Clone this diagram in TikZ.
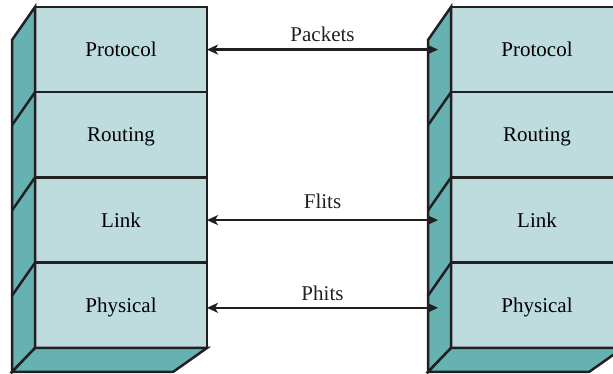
\documentclass[tikz,border=0pt]{standalone}
\usepackage{fontspec}
\setmainfont{Liberation Serif}
\newfontfamily\stackfont{Liberation Serif}
\usepackage{xcolor}
\definecolor{faceBack}{HTML}{BEDCDD}
\definecolor{sideBack}{HTML}{66B2B3}
\definecolor{ink}{HTML}{231F20}
\usetikzlibrary{arrows.meta, positioning, calc}
\tikzset{
    layer/.style={rectangle, draw=ink, fill=faceBack, line width=2.5pt,
                  minimum width=172pt, minimum height=85.25pt, outer sep=0pt,
                  inner sep=0pt, text height=14.3pt, text depth=0pt,
                  font=\stackfont\fontsize{21}{24}\selectfont},
    side/.style={draw=ink, fill=sideBack, line width=2.5pt, line join=miter},
    edge/.style={draw=ink, line width=2.5pt},
    msg/.style={<->, >={Stealth[length=11pt, width=10pt, inset=3pt]},
                draw=ink, line width=2.2pt},
    msglabel/.style={inner sep=0pt, text depth=0pt, text=ink,
                     font=\stackfont\fontsize{21}{24}\selectfont},
}

\begin{document}
\begin{tikzpicture}[x=1pt, y=-1pt]
    \clip (0,0) rectangle (613,374);
    \foreach \s/\x in {l/121, r/537} {
        % front faces of the stack
        \node[layer] (\s prot) at (\x,49.6) {Protocol};
        \node[layer, below=0pt of \s prot] (\s rout) {Routing};
        \node[layer, below=0pt of \s rout] (\s link) {Link};
        \node[layer, below=0pt of \s link] (\s phys) {Physical};
        % side and bottom faces
        \draw[side] (\s prot.north west) -- ++(-23,33) -- ++(0,332)
            -- (\s phys.south west) -- cycle;
        \draw[side] (\s phys.south west) -- (\s phys.south east)
            -- ++(-34,24) -- ++(-161,0) -- cycle;
        \foreach \n in {prot, rout, link}
            \draw[edge] (\s\n.south west) -- ++(-23,33);
    }
    \draw[msg] (lprot.east) -- ([xshift=-13pt]rprot.west)
        node[msglabel, midway, above=7pt] {Packets};
    \draw[msg] (llink.east) -- ([xshift=-13pt]rlink.west)
        node[msglabel, midway, above=10pt] {Flits};
    \draw[msg] ([yshift=-2.5pt]lphys.east) -- ([xshift=-13pt, yshift=-2.5pt]rphys.west)
        node[msglabel, midway, above=6pt] {Phits};
\end{tikzpicture}
\end{document}
